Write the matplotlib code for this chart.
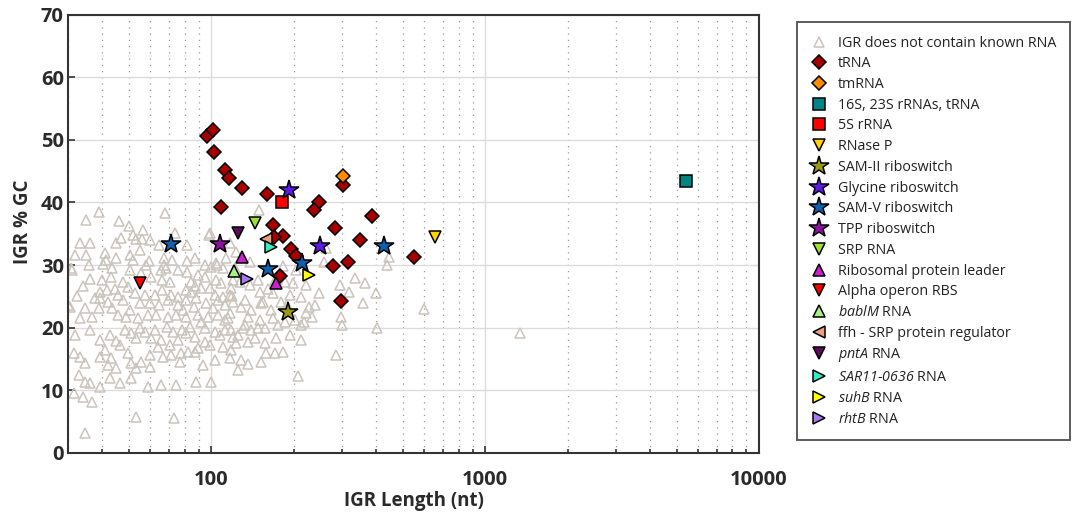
import numpy as np
import matplotlib
matplotlib.use("Agg")
import matplotlib.pyplot as plt
from matplotlib.ticker import FixedLocator, LogLocator, NullFormatter, FuncFormatter

plt.rcParams['font.family'] = ['Open Sans', 'DejaVu Sans']
plt.rcParams['mathtext.fontset'] = 'custom'
plt.rcParams['mathtext.rm'] = 'Open Sans:italic'
plt.rcParams['mathtext.it'] = 'Open Sans:italic'

# IGRs without known RNA (length nt, %GC)
gray_len = [39.0, 35.0, 46.0, 49.9, 68.0, 51.7, 55.7, 53.0, 46.7, 44.8, 33.2, 36.1, 98.5,
            31.9, 35.0, 40.8, 41.2, 44.8, 50.7, 51.7, 59.1, 67.4, 71.8, 81.4, 103.8, 110.2,
            31.1, 40.2, 67.4, 65.4, 68.2, 36.2, 39.8, 43.0, 47.5, 55.2, 60.1, 66.0, 70.6,
            89.3, 94.6, 84.1, 87.0, 91.5, 98.7, 103.8, 108.3, 32.5, 39.2, 41.5, 44.4, 49.5,
            52.5, 57.1, 62.2, 66.0, 71.2, 75.5, 80.7, 84.1, 103.0, 110.2, 30.6, 34.7, 38.8,
            41.9, 47.5, 54.8, 59.6, 69.4, 75.5, 80.7, 86.4, 95.4, 101.3, 33.3, 36.8, 45.5,
            48.7, 53.9, 58.6, 62.7, 69.4, 74.2, 80.7, 89.3, 97.1, 105.6, 112.0,
            31.9, 36.2, 39.2, 42.6, 44.8, 50.8, 53.0, 57.1, 60.1, 65.4, 72.4, 75.5, 80.7,
            87.0, 94.6, 103.0, 112.0, 31.6, 33.3, 34.7, 39.2, 40.8, 43.0, 44.8, 41.9, 49.5,
            50.8, 53.0, 55.2, 59.6, 59.6, 66.5, 71.2, 77.4, 76.7, 82.1, 87.0, 93.1, 103.0,
            110.2, 33.0, 34.7, 36.2, 39.2, 42.6, 46.3, 50.8, 58.6, 65.4, 74.2, 87.8, 99.6,
            31.6, 33.9, 36.8, 53.0, 73.0, 34.7,
            149.2, 116.8, 261.7, 257.3, 334.3, 363.6, 119.8, 127.1, 117.8, 150.5, 160.9,
            167.9, 194.3, 211.9, 226.8, 246.8, 294.9, 319.2, 296.9, 357.5, 398.7, 119.8,
            128.2, 139.4, 151.7, 165.0, 179.7, 221.0, 232.8, 167.9, 116.8, 136.0, 203.0,
            437.5, 444.9, 596.0, 402.0, 217.3, 1336.0,
            130.4, 139.4, 148.0, 156.9, 175.1, 117.8, 119.8, 122.9, 136.0, 144.2, 172.2,
            117.8, 158.2, 170.7, 182.8, 116.8, 128.2, 136.0, 151.7, 125.0, 208.2, 285.0,
            213.6, 301.0, 30.9, 30.0, 98.7, 56.2, 104.7, 100.0, 122.9, 138.2, 204.8, 182.8,
            91.5, 94.6, 83.4, 78.0, 68.8, 62.2, 54.8, 48.3, 107.4, 98.7, 89.3, 70.6, 63.7,
            46.3, 112.0, 105.6, 116.8, 114.9, 87.8, 79.0, 64.7, 50.4, 43.3, 37.5, 34.1,
            50.4, 57.6, 75.5, 81.4, 94.6, 87.0, 113.0, 121.9, 138.2, 148.0, 170.7, 185.9,
            198.4, 221.0, 154.3, 189.2, 239.6, 132.5, 150.5, 185.9, 125.0, 194.3, 156.9,
            211.9, 118.8, 132.5, 54.8, 64.7, 81.4, 73.6, 43.3, 35.9, 59.6, 39.2, 45.5]
gray_gc = [38.5, 37.2, 37.0, 36.2, 38.3, 34.8, 34.1, 34.1, 34.3, 33.5, 33.5, 33.5, 34.8,
           31.6, 31.6, 31.9, 30.8, 31.1, 31.6, 30.8, 30.6, 31.1, 30.8, 30.6, 30.3, 29.5,
           29.2, 30.2, 30.0, 29.2, 29.5, 27.8, 27.6, 28.1, 27.3, 28.7, 28.1, 27.6, 27.3,
           28.4, 28.1, 27.3, 26.6, 26.3, 26.3, 27.6, 27.1, 25.1, 25.7, 26.0, 26.2, 26.5,
           25.5, 25.2, 25.2, 26.0, 25.2, 24.9, 26.0, 25.7, 25.2, 24.9, 23.3, 23.1, 23.1,
           24.1, 24.4, 23.9, 23.9, 24.4, 23.6, 24.4, 23.3, 23.9, 23.1, 21.5, 21.7, 22.0,
           21.7, 21.5, 22.0, 22.0, 21.7, 22.0, 21.7, 22.0, 21.7, 22.0, 21.2,
           18.8, 19.6, 18.0, 18.8, 17.9, 19.1, 18.4, 19.3, 18.4, 18.0, 19.3, 18.0, 19.1,
           18.5, 17.7, 19.3, 19.6, 16.0, 15.3, 14.4, 15.3, 16.4, 15.2, 13.6, 14.0, 16.0,
           14.4, 13.6, 14.5, 15.6, 13.7, 15.3, 15.6, 16.0, 14.5, 16.1, 16.1, 14.0, 14.8,
           16.9, 12.4, 11.3, 11.2, 10.5, 12.0, 11.2, 12.0, 10.5, 10.9, 10.9, 11.3, 11.3,
           9.6, 8.9, 8.1, 5.7, 5.6, 3.2,
           38.8, 33.5, 32.7, 30.5, 27.9, 27.1, 27.6, 27.3, 26.3, 25.7, 26.2,
           25.5, 25.2, 24.9, 23.3, 25.5, 26.8, 25.7, 21.7, 23.9, 25.5, 24.1,
           23.3, 22.8, 23.9, 22.8, 24.1, 22.3, 21.7, 21.5, 22.3, 21.7, 21.2,
           30.0, 31.3, 23.0, 19.9, 20.9, 19.1,
           19.9, 19.6, 19.9, 19.9, 20.4, 19.6, 18.5, 17.6, 17.7, 18.4, 18.4,
           16.4, 16.0, 16.0, 16.1, 15.2, 14.8, 14.2, 14.5, 13.2, 12.3, 15.6,
           20.4, 20.4, 29.5, 23.6, 35.1, 35.6, 30.0, 29.7, 32.1, 30.5, 29.2, 29.8,
           20.9, 19.9, 20.1, 19.6, 20.1, 19.6, 19.9, 19.6, 18.8, 17.2, 16.8, 17.2, 16.9,
           17.2, 23.6, 24.4, 25.2, 21.5, 24.7, 22.8, 23.6, 22.8, 23.1, 24.7, 26.6,
           29.2, 30.0, 29.2, 28.9, 30.0, 31.1, 31.1, 29.5, 26.8, 27.6, 27.6, 27.3,
           27.1, 26.8, 24.1, 23.6, 23.6, 20.4, 21.2, 20.9, 18.8, 18.8, 17.6,
           18.0, 25.1, 24.4, 32.4, 33.2, 33.2, 35.1, 29.5, 30.0, 34.0, 24.7, 25.2]

trna_len = [96.3, 101.3, 102, 112, 115.9, 130, 109, 159.6, 302.6, 247, 237, 386, 168, 282,
            183, 169, 348, 195, 204, 549, 316, 278, 178, 297]
trna_gc = [50.6, 51.5, 48.0, 45.2, 43.9, 42.3, 39.3, 41.3, 42.8, 40.0, 38.8, 37.8, 36.4,
           35.9, 34.6, 34.5, 34.0, 32.6, 31.4, 31.3, 30.5, 29.8, 28.2, 24.3]

# other RNA classes: (lengths, %GC)
tmrna = ([302.6], [44.2])
rrna16s = ([5433], [43.4])
rrna5s = ([181], [40.0])
rnasep = ([657], [34.5])
sam2 = ([190], [22.5])
glycine = ([192, 249], [42.0, 33.0])
sam5 = ([71.5, 161, 214, 426], [33.3, 29.3, 30.3, 33.0])
tpp = ([107.5], [33.3])
srp = ([144], [36.7])
ribo = ([130, 172], [31.3, 27.1])
alpha = ([54.8], [27.1])
bablm = ([121], [29.0])
ffh = ([158], [34.1])
pnta = ([125], [35.1])
sar11 = ([166], [32.9])
suhb = ([227], [28.4])
rhtb = ([135], [27.8])

fig = plt.figure(figsize=(10.79, 5.24), dpi=100)
ax = fig.add_axes([0.063, 0.1355, 0.6404, 0.8368])

ax.plot(gray_len, gray_gc, '^', ls='none', ms=6.6, mfc='none', mec='#CBC4BD', mew=1.1,
        label='IGR does not contain known RNA')

def pts(data, marker, color, label, ms):
    ax.plot(data[0], data[1], marker, ls='none', ms=ms, mfc=color, mec='black', mew=1.1,
            label=label)

pts((trna_len, trna_gc), 'D', '#A80000', 'tRNA', 7.5)
pts(tmrna, 'D', '#FF8C00', 'tmRNA', 7.5)
pts(rrna16s, 's', '#008585', '16S, 23S rRNAs, tRNA', 8)
pts(rrna5s, 's', '#FF0000', '5S rRNA', 8)
pts(rnasep, 'v', '#FFD200', 'RNase P', 9)
pts(sam2, '*', '#9A9A10', 'SAM-II riboswitch', 15)
pts(glycine, '*', '#6018E8', 'Glycine riboswitch', 15)
pts(sam5, '*', '#1060B0', 'SAM-V riboswitch', 15)
pts(tpp, '*', '#8E10A0', 'TPP riboswitch', 15)
pts(srp, 'v', '#A0E030', 'SRP RNA', 9)
pts(ribo, '^', '#CC20D0', 'Ribosomal protein leader', 9)
pts(alpha, 'v', '#FF0000', 'Alpha operon RBS', 9)
pts(bablm, '^', '#A8F080', r'$bablM$ RNA', 9)
pts(ffh, '<', '#E8A080', 'ffh - SRP protein regulator', 9)
pts(pnta, 'v', '#5C0C5C', r'$pntA$ RNA', 9)
pts(sar11, '>', '#30F0C0', r'$SAR11$-$0636$ RNA', 9)
pts(suhb, '>', '#FFFF00', r'$suhB$ RNA', 9)
pts(rhtb, '>', '#A878F0', r'$rhtB$ RNA', 9)

ax.set_xscale('log')
ax.set_xlim(30, 10000)
ax.set_ylim(0, 70)
ax.set_yticks(range(0, 71, 10))
ax.xaxis.set_major_locator(FixedLocator([100, 1000, 10000]))
ax.xaxis.set_major_formatter(FuncFormatter(lambda v, p: '%d' % v))
ax.xaxis.set_minor_locator(LogLocator(base=10, subs=np.arange(2, 10), numticks=20))
ax.xaxis.set_minor_formatter(NullFormatter())

ax.grid(True, which='major', color='#DCDCDC', lw=1.0, ls='-')
ax.grid(True, which='minor', axis='x', color='#9A9A9A', lw=0.9, ls=(0, (1, 4)))
ax.set_axisbelow(True)

for s in ax.spines.values():
    s.set_color('#333333')
    s.set_linewidth(1.5)
ax.tick_params(which='both', direction='in', colors='#333333', width=1.2,
               labelsize=14.5, labelcolor='#2a2a2a')
ax.tick_params(which='major', length=5)
ax.tick_params(axis='x', which='major', pad=12)
ax.tick_params(axis='y', which='major', pad=3)
ax.tick_params(which='minor', length=3)
for lab in ax.get_xticklabels() + ax.get_yticklabels():
    lab.set_fontweight('bold')

ax.set_xlabel('IGR Length (nt)', fontsize=13.5, fontweight='bold', color='#2a2a2a', labelpad=1)
ax.set_ylabel('IGR % GC', fontsize=13.5, fontweight='bold', color='#2a2a2a')
ax.yaxis.set_label_coords(-0.051, 0.527)

leg = fig.legend(loc='upper left', bbox_to_anchor=(0.7387, 0.958), borderaxespad=0,
                 fontsize=10.3, frameon=True, fancybox=False, edgecolor='#222222',
                 handlelength=1.1, handletextpad=0.8, labelspacing=0.40,
                 borderpad=0.95, numpoints=1)
leg.get_frame().set_linewidth(1.3)
for t in leg.get_texts():
    t.set_color('#222222')

fig.savefig('out.png', dpi=100)
